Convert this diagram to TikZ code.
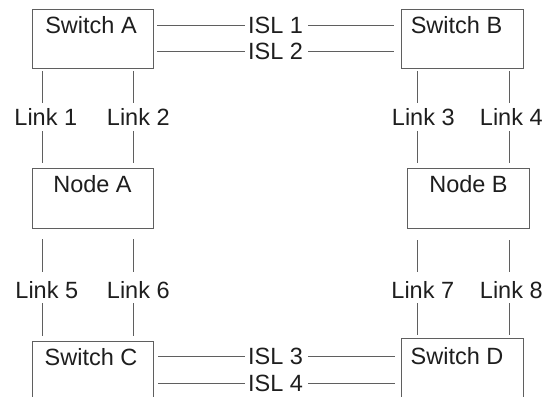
\documentclass[tikz,border=0pt]{standalone}
\usepackage{fontspec}
\setmainfont{Liberation Sans}
\definecolor{lc}{RGB}{95,95,95}
\definecolor{tc}{RGB}{30,30,30}
\begin{document}
\begin{tikzpicture}[x=1pt,y=-1pt,
  box/.style={draw=lc, line width=0.9pt, inner sep=0pt, minimum width=121pt, minimum height=59pt},
  lbl/.style={inner sep=0pt, text height=16.8pt, text depth=0pt, font=\fontsize{23.5}{28}\selectfont, text=tc},
  ln/.style={draw=lc, line width=0.9pt}]
\clip (0,0) rectangle (543,396);
% boxes
\node[box] (swA) at (92.5,38.5) {};
\node[box, minimum width=122pt] (swB) at (462,38.5) {};
\node[box, minimum height=60pt] (ndA) at (92.5,198) {};
\node[box, minimum width=122pt, minimum height=60pt] (ndB) at (468,198) {};
\node[box, minimum height=60pt] (swC) at (92.5,371) {};
\node[box, minimum width=122pt, minimum height=60pt] (swD) at (462,368) {};
% box texts
\node[lbl] (tA) at (91,25) {Switch A};
\node[lbl] (tB) at (456.5,25) {Switch B};
\node[lbl] (tnA) at (92.5,184) {Node A};
\node[lbl] (tnB) at (468.5,184) {Node B};
\node[lbl] (tC) at (91,357) {Switch C};
\node[lbl] (tD) at (457,356) {Switch D};
% ISL labels
\node[lbl] (i1) at (275.5,25) {ISL 1};
\node[lbl] (i2) at (275.5,51) {ISL 2};
\node[lbl] (i3) at (275.5,356) {ISL 3};
\node[lbl] (i4) at (275.5,383) {ISL 4};
% link labels
\node[lbl] (l1) at (45.8,116.6) {Link 1};
\node[lbl] (l2) at (138.3,116.6) {Link 2};
\node[lbl] (l3) at (423.3,116.6) {Link 3};
\node[lbl] (l4) at (511.3,116.6) {Link 4};
\node[lbl] (l5) at (46.8,289.6) {Link 5};
\node[lbl] (l6) at (138.3,289.6) {Link 6};
\node[lbl] (l7) at (422.8,289.6) {Link 7};
\node[lbl] (l8) at (511.3,289.6) {Link 8};
% ISL connectors
\foreach \i in {i1,i2}{
  \draw[ln, shorten <=4pt, shorten >=3pt] (swA.east |- \i) -- (\i.west);
  \draw[ln, shorten <=5pt, shorten >=7pt] (\i.east) -- (swB.west |- \i);
}
\foreach \i in {i3,i4}{
  \draw[ln, shorten <=5pt, shorten >=3pt] (swC.east |- \i) -- (\i.west);
  \draw[ln, shorten <=5pt, shorten >=6pt] (\i.east) -- (swD.west |- \i);
}
% upper links
\foreach \l/\s/\n/\d in {l1/swA/ndA/-3.8pt, l2/swA/ndA/-5.3pt, l3/swB/ndB/-6.3pt, l4/swB/ndB/-2.3pt}{
  \draw[ln, shorten <=3pt, shorten >=5pt] ([xshift=\d]\s.south -| \l) -- ([xshift=\d]\l.north);
  \draw[ln, shorten <=6pt, shorten >=5pt] ([xshift=\d]\l.south) -- ([xshift=\d]\n.north -| \l);
}
% lower links
\foreach \l/\s/\n/\d/\a/\b in {l5/ndA/swC/-4.8pt/11pt/5pt, l6/ndA/swC/-5.3pt/11pt/5pt, l7/ndB/swD/-5.8pt/12pt/3pt, l8/ndB/swD/-2.3pt/12pt/3pt}{
  \draw[ln, shorten <=\a, shorten >=9pt] ([xshift=\d]\s.south -| \l) -- ([xshift=\d]\l.north);
  \draw[ln, shorten <=5pt, shorten >=\b] ([xshift=\d]\l.south) -- ([xshift=\d]\n.north -| \l);
}
\end{tikzpicture}
\end{document}
